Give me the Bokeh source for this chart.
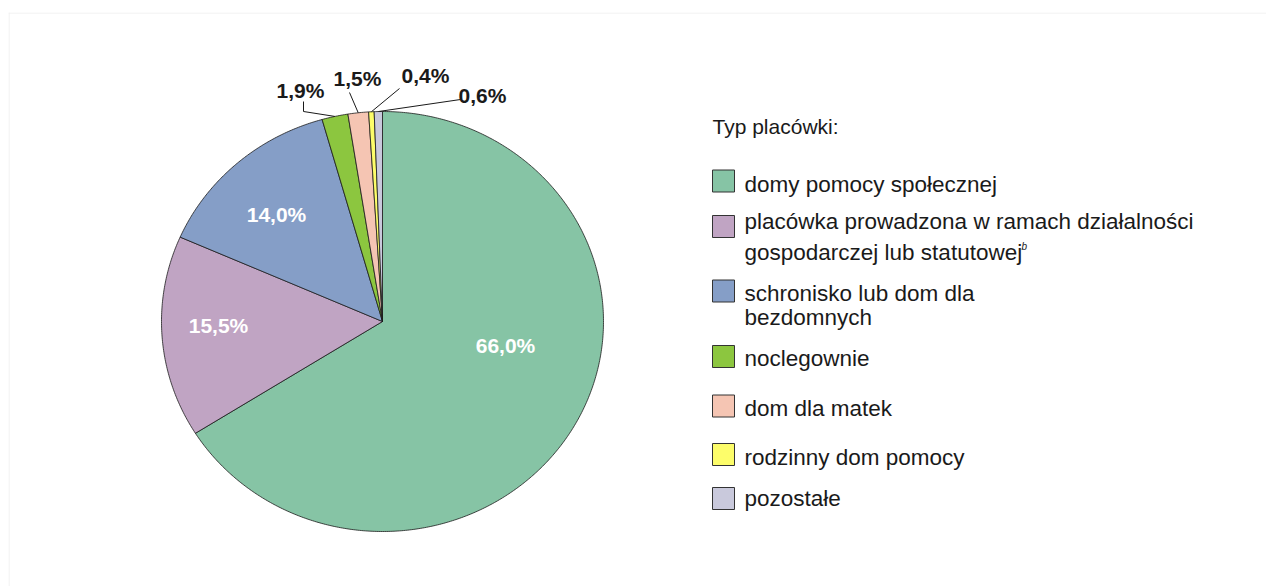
import math
from bokeh.plotting import figure
from bokeh.models import Range1d, ColumnDataSource, Span
from bokeh.core.properties import value
from bokeh.embed import file_html
from bokeh.resources import INLINE

# ---------------- data ----------------
categories = [
    "domy pomocy społecznej",
    "placówka prowadzona w ramach działalności\ngospodarczej lub statutowej",
    "schronisko lub dom dla\nbezdomnych",
    "noclegownie",
    "dom dla matek",
    "rodzinny dom pomocy",
    "pozostałe",
]
shares = [66.0, 15.5, 14.0, 1.9, 1.5, 0.4, 0.6]
colors = ["#86c4a5", "#c0a4c3", "#859ec7", "#8cc63f", "#f5c5b3", "#fdfd6a", "#c9c9dc"]
legend_title = "Typ placówki:"
footnote_mark = "b"

def fmt(v):
    return f"{v:.1f}".replace(".", ",") + "%"

# ---------------- layout ----------------
FONT = "Liberation Sans"
CX, CY, RX, RY = 382, 321, 221, 210
inner_label_pos = {0: (505, 345), 1: (218, 325), 2: (276, 214)}
outer_label_pos = {3: (300, 90), 4: (357, 78), 5: (425, 75), 6: (482, 95)}
leader_start = {3: [(303, 101), (303, 111)], 4: [(349, 92)], 5: [(399, 88)], 6: [(460, 99)]}
legend_sq_y = [180.5, 226, 290.5, 356, 405.5, 454, 498]
legend_line_y = [[184], [221, 252], [292.5, 316.5], [357.5], [408], [456.5], [498]]
SQ_X, SQ = 723, 22
TXT_X = 744

p = figure(width=1266, height=586, output_backend="svg", toolbar_location=None,
           x_range=Range1d(8, 1266), y_range=Range1d(586, 12),
           min_border_left=8, min_border_right=0, min_border_top=12, min_border_bottom=0)
p.axis.visible = False
p.grid.visible = False
p.outline_line_color = None
p.background_fill_color = "white"
p.border_fill_color = "white"
p.add_layout(Span(location=12.5, dimension="width", line_color="#ededed", line_width=1))
p.add_layout(Span(location=8.5, dimension="height", line_color="#ededed", line_width=1))

total = sum(shares)

def pt(theta_deg, r=1.0):
    t = math.radians(theta_deg)
    return CX + RX * r * math.sin(t), CY - RY * r * math.cos(t)

xs, ys, mids = [], [], []
cum = 0.0
for v in shares:
    a0 = cum / total * 360.0
    cum += v
    a1 = cum / total * 360.0
    n = max(2, int((a1 - a0) * 2) + 2)
    px, py = [CX], [CY]
    for i in range(n + 1):
        x, y = pt(a0 + (a1 - a0) * i / n)
        px.append(x)
        py.append(y)
    xs.append(px)
    ys.append(py)
    mids.append((a0 + a1) / 2)

src = ColumnDataSource(dict(xs=xs, ys=ys, color=colors))
p.patches("xs", "ys", source=src, fill_color="color", line_color="#1a1a1a", line_width=0.8)

# inner labels
for i, (x, y) in inner_label_pos.items():
    p.text(x=[x], y=[y], text=[fmt(shares[i])], text_color="white",
           text_font=value(FONT), text_font_style="bold", text_font_size="21px",
           text_align="center", text_baseline="middle")

# outer labels + leaders
for i, (x, y) in outer_label_pos.items():
    p.text(x=[x], y=[y], text=[fmt(shares[i])], text_color="#1a1a1a",
           text_font=value(FONT), text_font_style="bold", text_font_size="21px",
           text_align="center", text_baseline="middle")
    ex, ey = pt(mids[i])
    path = leader_start[i] + [(ex, ey)]
    p.line(x=[q[0] for q in path], y=[q[1] for q in path], line_color="#1a1a1a", line_width=1)

# legend
p.text(x=[712], y=[125.7], text=[legend_title], text_color="#1a1a1a",
       text_font=value(FONT), text_font_size="21px", text_baseline="middle")
p.rect(x=[SQ_X] * len(colors), y=legend_sq_y, width=SQ, height=SQ,
       fill_color=colors, line_color="#333333", line_width=1)
for i, lab in enumerate(categories):
    for line, y in zip(lab.split("\n"), legend_line_y[i]):
        p.text(x=[TXT_X], y=[y], text=[line], text_color="#1a1a1a",
               text_font=value(FONT), text_font_size="22.5px", text_baseline="middle")
p.text(x=[1021], y=[246], text=[footnote_mark], text_color="#1a1a1a",
       text_font=value(FONT), text_font_style="italic", text_font_size="10px",
       text_baseline="middle")

open("out.html", "w").write(file_html(p, INLINE))
